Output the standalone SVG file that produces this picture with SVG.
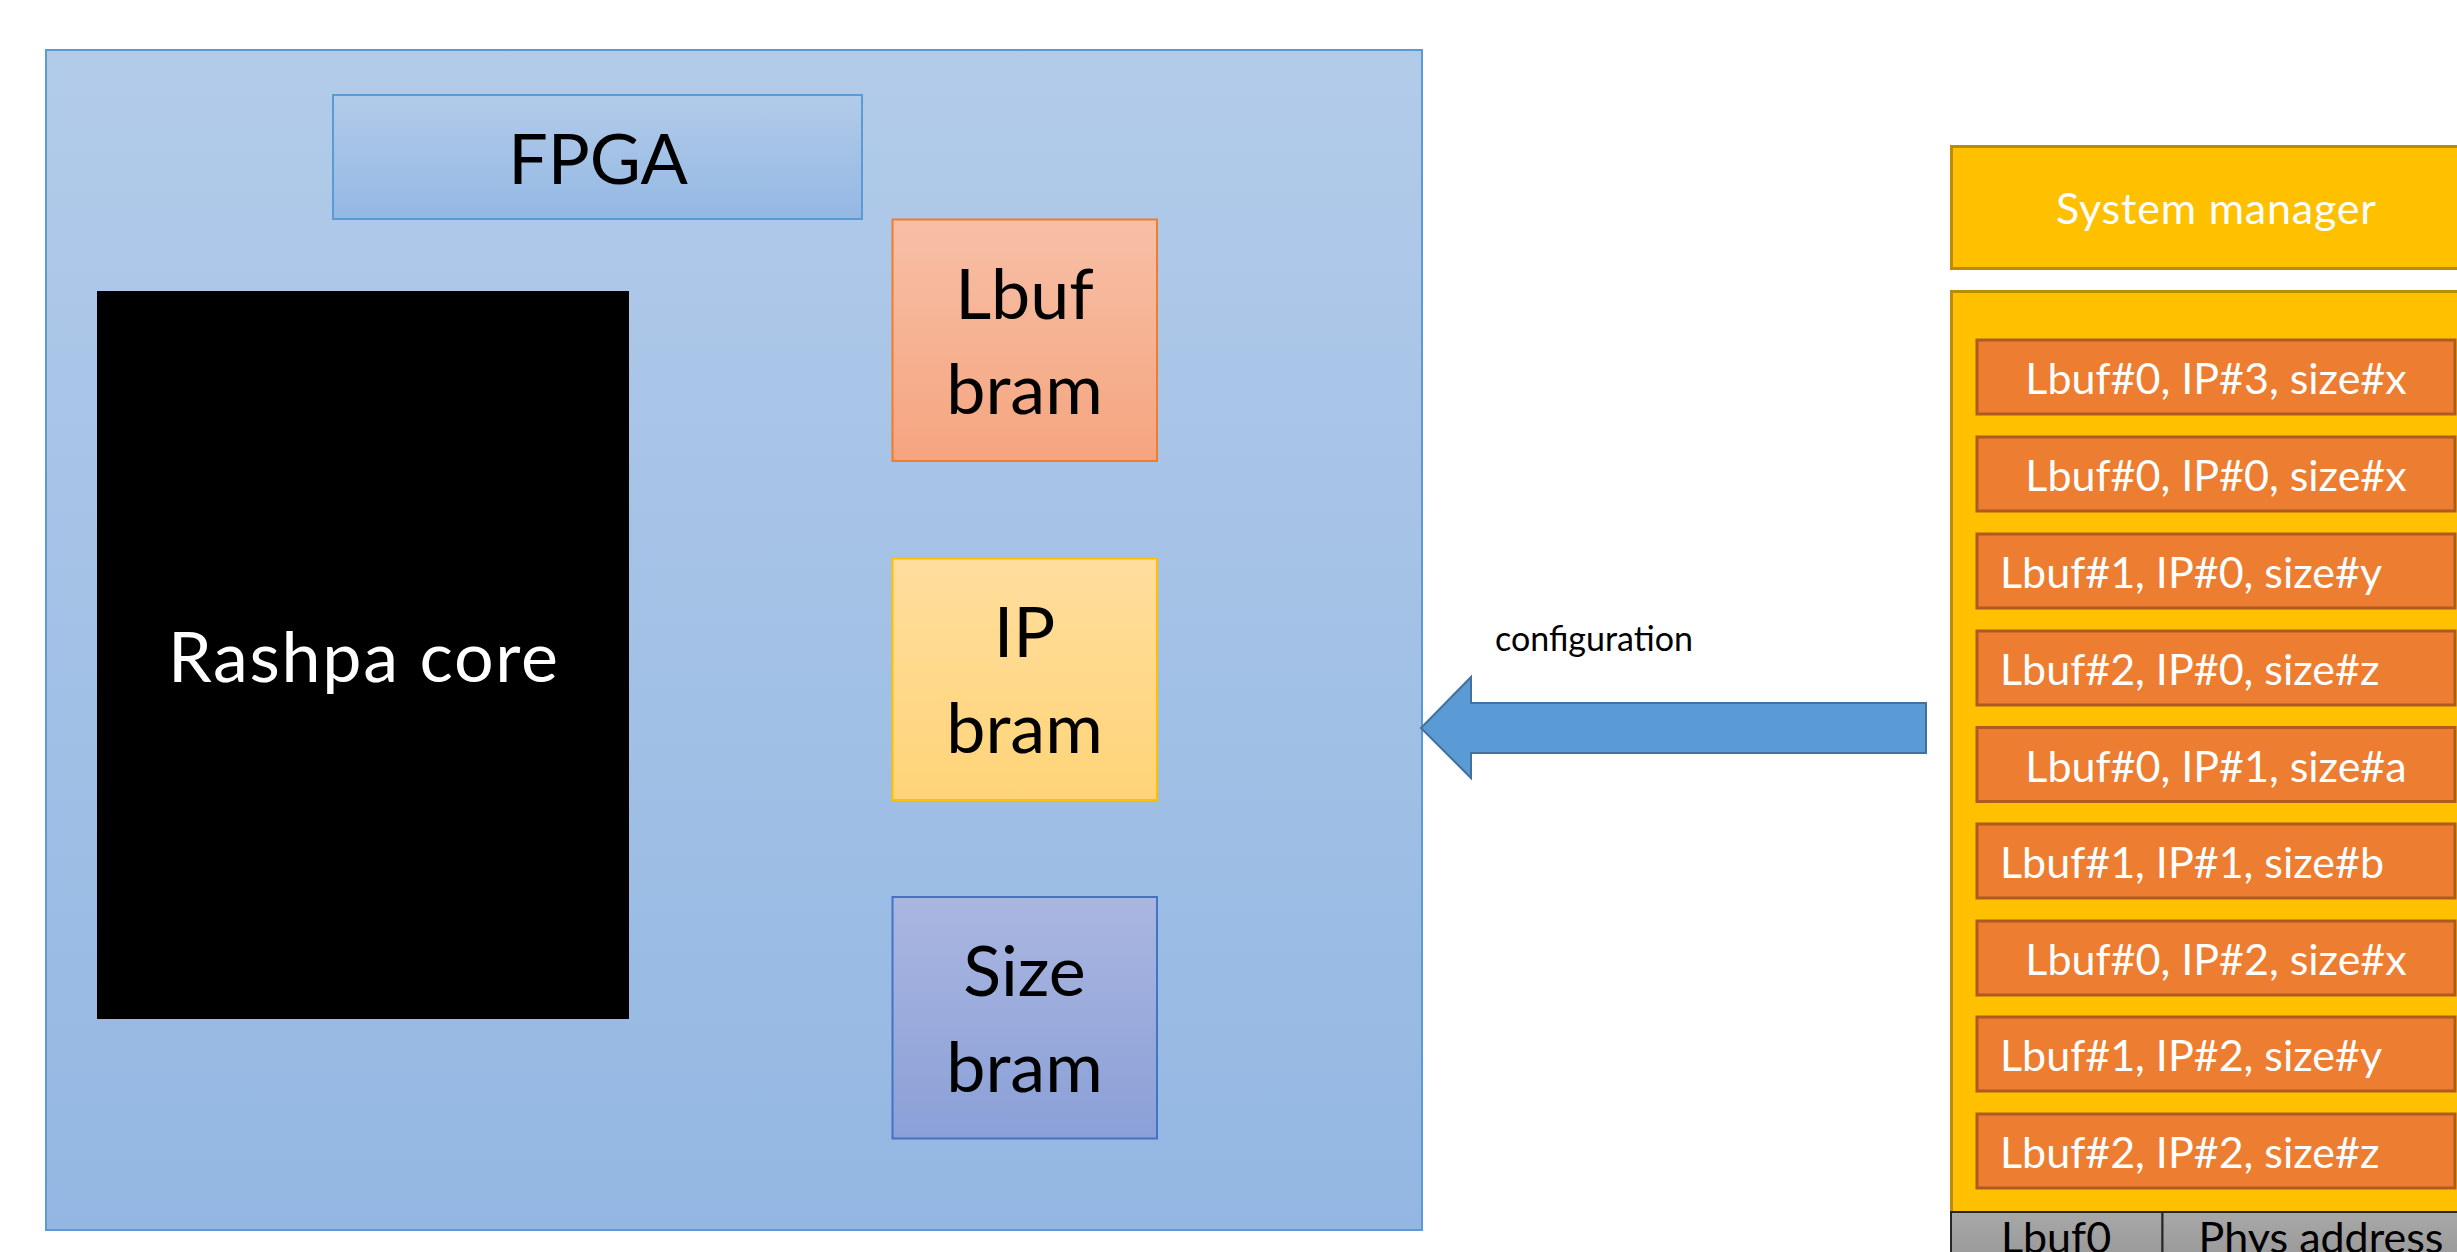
<svg xmlns="http://www.w3.org/2000/svg" width="2457" height="1252" viewBox="0 0 2457 1252">
  <defs>
    <linearGradient id="gBlue" x1="0" y1="0" x2="0" y2="1">
      <stop offset="0" stop-color="#B2CBE9"/>
      <stop offset="1" stop-color="#93B7E2"/>
    </linearGradient>
    <linearGradient id="gBlueLabel" x1="0" y1="0" x2="0" y2="1">
      <stop offset="0" stop-color="#B2CBE9"/>
      <stop offset="1" stop-color="#94B8E3"/>
    </linearGradient>
    <linearGradient id="gOrange" x1="0" y1="0" x2="0" y2="1">
      <stop offset="0" stop-color="#F7BFA6"/>
      <stop offset="1" stop-color="#F5A57F"/>
    </linearGradient>
    <linearGradient id="gGold" x1="0" y1="0" x2="0" y2="1">
      <stop offset="0" stop-color="#FFDD9D"/>
      <stop offset="1" stop-color="#FFD478"/>
    </linearGradient>
    <linearGradient id="gIndigo" x1="0" y1="0" x2="0" y2="1">
      <stop offset="0" stop-color="#AAB6E0"/>
      <stop offset="1" stop-color="#8AA0D7"/>
    </linearGradient>
    <linearGradient id="gGray" x1="0" y1="0" x2="0" y2="1">
      <stop offset="0" stop-color="#A8A8A8"/>
      <stop offset="1" stop-color="#8E8E8E"/>
    </linearGradient>
  </defs>
  <style>
    text { font-family: Lato, "Open Sans", "Liberation Sans", sans-serif; }
    .big { font-size: 70px; fill: #000000; text-anchor: middle; }
    .row { fill: #ED7D31; stroke: #AE5A21; stroke-width: 3; }
    .rowt { font-size: 43px; fill: #FFFFFF; }
    .c { text-anchor: middle; }
    .gold { fill: #FFC000; stroke: #BC8C00; stroke-width: 3; }
    .cell { fill: url(#gGray); stroke: #262626; stroke-width: 2; }
  </style>
  <rect width="2457" height="1252" fill="#FFFFFF"/>

  <g id="fpga">
    <rect x="46" y="50" width="1376" height="1180" fill="url(#gBlue)" stroke="#5B9BD5" stroke-width="2"/>
  </g>
  <g id="fpga-label">
    <rect x="333" y="95" width="529" height="124" fill="url(#gBlueLabel)" stroke="#5B9BD5" stroke-width="2"/>
    <text class="big" x="598" y="184">FPGA</text>
  </g>
  <g id="rashpa-core">
    <rect x="97" y="291" width="532" height="728" fill="#000000"/>
    <text class="big" x="363" y="682" style="fill:#FFFFFF" textLength="390" lengthAdjust="spacing">Rashpa core</text>
  </g>
  <g id="lbuf-bram">
    <rect x="892.5" y="219.5" width="264.5" height="241.5" fill="url(#gOrange)" stroke="#ED7D31" stroke-width="2"/>
    <text class="big" x="1024.5" y="319">Lbuf</text>
    <text class="big" x="1024.5" y="414">bram</text>
  </g>
  <g id="ip-bram">
    <rect x="892.5" y="558.5" width="264.5" height="241.5" fill="url(#gGold)" stroke="#FFC000" stroke-width="2"/>
    <text class="big" x="1024.5" y="657">IP</text>
    <text class="big" x="1024.5" y="753">bram</text>
  </g>
  <g id="size-bram">
    <rect x="892.5" y="897" width="264.5" height="241.5" fill="url(#gIndigo)" stroke="#4472C4" stroke-width="2"/>
    <text class="big" x="1024.5" y="996">Size</text>
    <text class="big" x="1024.5" y="1092">bram</text>
  </g>

  <g id="connectors">
    <polygon points="1421,728 1471,677 1471,703 1926,703 1926,753 1471,753 1471,778" fill="#5B9BD5" stroke="#41719C" stroke-width="2" stroke-linejoin="miter"/>
    <text x="1495" y="651" style="font-size:34px" fill="#000000">configuration</text>
  </g>

  <g id="system-manager">
    <rect class="gold" x="1951.5" y="146.5" width="560" height="122"/>
    <text class="rowt c" x="2216" y="224" textLength="320" lengthAdjust="spacing">System manager</text>
  </g>

  <g id="config-table">
    <rect class="gold" x="1951.5" y="291.5" width="560" height="921"/>
  </g>
  <g id="row-1">
    <rect class="row" x="1977" y="340" width="478" height="74"/>
    <text class="rowt c" x="2216" y="394">Lbuf#0, IP#3, size#x</text>
  </g>
  <g id="row-2">
    <rect class="row" x="1977" y="437" width="478" height="74"/>
    <text class="rowt c" x="2216" y="491">Lbuf#0, IP#0, size#x</text>
  </g>
  <g id="row-3">
    <rect class="row" x="1977" y="534" width="478" height="74"/>
    <text class="rowt" x="2000" y="588">Lbuf#1, IP#0, size#y</text>
  </g>
  <g id="row-4">
    <rect class="row" x="1977" y="631" width="478" height="74"/>
    <text class="rowt" x="2000" y="685">Lbuf#2, IP#0, size#z</text>
  </g>
  <g id="row-5">
    <rect class="row" x="1977" y="727.5" width="478" height="74"/>
    <text class="rowt c" x="2216" y="781.5">Lbuf#0, IP#1, size#a</text>
  </g>
  <g id="row-6">
    <rect class="row" x="1977" y="824" width="478" height="74"/>
    <text class="rowt" x="2000" y="878">Lbuf#1, IP#1, size#b</text>
  </g>
  <g id="row-7">
    <rect class="row" x="1977" y="921" width="478" height="74"/>
    <text class="rowt c" x="2216" y="975">Lbuf#0, IP#2, size#x</text>
  </g>
  <g id="row-8">
    <rect class="row" x="1977" y="1017" width="478" height="74"/>
    <text class="rowt" x="2000" y="1071">Lbuf#1, IP#2, size#y</text>
  </g>
  <g id="row-9">
    <rect class="row" x="1977" y="1114" width="478" height="74"/>
    <text class="rowt" x="2000" y="1168">Lbuf#2, IP#2, size#z</text>
  </g>

  <g id="phys-table">
    <rect class="cell" x="1951" y="1212" width="211.5" height="80"/>
    <rect class="cell" x="2162.5" y="1212" width="320" height="80"/>
    <text class="rowt c" x="2056" y="1253" style="fill:#000000">Lbuf0</text>
    <text class="rowt c" x="2321" y="1253" style="fill:#000000">Phys address</text>
  </g>
</svg>
